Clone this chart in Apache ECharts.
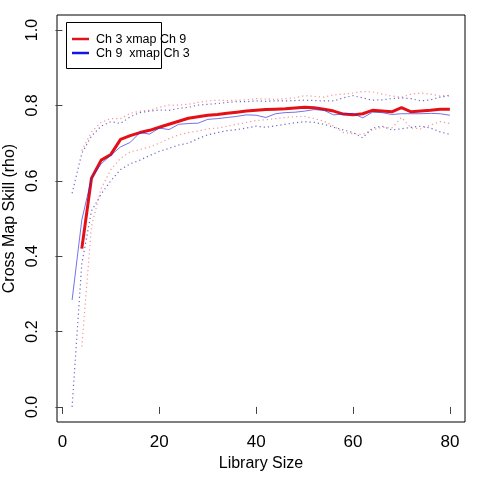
<!DOCTYPE html>
<html>
<head>
<meta charset="utf-8">
<script src="https://cdn.jsdelivr.net/npm/echarts@6/dist/echarts.min.js"></script>
<style>html,body{margin:0;padding:0;background:#fff}#c{width:480px;height:480px}</style>
</head>
<body>
<div id="c"></div>
<script>
var libSizes = [2,4,6,8,10,12,14,16,18,20,22,24,26,28,30,32,34,36,38,40,42,44,46,48,50,52,54,56,58,60,62,64,66,68,70,72,74,76,78,80];
var redMean = [null,0.42,0.607,0.655,0.670,0.710,0.720,0.728,0.734,0.742,0.750,0.758,0.766,0.770,0.774,0.776,0.779,0.782,0.785,0.787,0.789,0.790,0.791,0.793,0.795,0.794,0.790,0.785,0.777,0.775,0.778,0.787,0.785,0.783,0.794,0.783,0.785,0.787,0.790,0.790];
var blueMean = [0.284,0.496,0.607,0.645,0.668,0.690,0.702,0.728,0.724,0.740,0.736,0.750,0.752,0.753,0.763,0.765,0.768,0.771,0.775,0.774,0.768,0.778,0.781,0.782,0.785,0.789,0.787,0.775,0.777,0.779,0.767,0.782,0.781,0.776,0.778,0.778,0.778,0.779,0.778,0.774];
var redUpper = [null,0.68,0.73,0.755,0.765,0.765,0.779,0.785,0.787,0.795,0.801,0.801,0.803,0.808,0.812,0.814,0.813,0.814,0.815,0.818,0.817,0.816,0.818,0.820,0.826,0.824,0.822,0.828,0.830,0.833,0.837,0.836,0.830,0.825,0.822,0.830,0.833,0.830,0.825,0.827];
var redLower = [null,0.16,0.48,0.58,0.63,0.660,0.677,0.683,0.690,0.700,0.712,0.722,0.728,0.732,0.738,0.740,0.745,0.750,0.755,0.760,0.762,0.765,0.768,0.770,0.771,0.765,0.758,0.745,0.728,0.725,0.723,0.735,0.742,0.740,0.768,0.740,0.738,0.748,0.757,0.752];
var blueUpper = [0.567,0.673,0.719,0.745,0.757,0.752,0.770,0.781,0.785,0.788,0.787,0.792,0.795,0.801,0.803,0.805,0.808,0.810,0.810,0.812,0.811,0.812,0.812,0.813,0.814,0.813,0.812,0.812,0.820,0.826,0.820,0.814,0.815,0.818,0.820,0.818,0.812,0.815,0.822,0.826];
var blueLower = [0.0,0.38,0.52,0.565,0.600,0.630,0.645,0.655,0.667,0.678,0.686,0.695,0.700,0.712,0.722,0.728,0.733,0.736,0.740,0.745,0.742,0.746,0.750,0.754,0.757,0.755,0.750,0.742,0.735,0.728,0.714,0.740,0.745,0.735,0.738,0.742,0.745,0.740,0.730,0.723];
var xTicks = [0,20,40,60,80];
var yTicks = [0,0.2,0.4,0.6,0.8,1.0];
var legendLabels = ['Ch 3 xmap Ch 9', 'Ch 9  xmap Ch 3'];

function pairs(vals){
  var out = [];
  for (var i = 0; i < libSizes.length; i++) {
    if (vals[i] !== null) out.push([libSizes[i], vals[i]]);
  }
  return out;
}
var FONT = '"Liberation Sans", Arial, Helvetica, sans-serif';
function lineSeries(name, vals, color, width, type, z){
  return {name: name, type: 'line', data: pairs(vals), symbol: 'none', z: z,
    lineStyle: {color: color, width: width, type: type}, silent: true};
}
var chart = echarts.init(document.getElementById('c'), null, {renderer: 'canvas'});
chart.setOption({
  animation: false,
  backgroundColor: '#fff',
  grid: {left: 57, right: 15, top: 15, bottom: 58, containLabel: false, outerBoundsMode: 'none',
    show: true, borderColor: '#000', borderWidth: 1, backgroundColor: 'transparent'},
  xAxis: {
    type: 'value', min: -1.12, max: 83.12,
    name: 'Library Size', nameLocation: 'middle', nameGap: 34,
    nameTextStyle: {fontFamily: FONT, fontSize: 16, color: '#000'},
    axisLine: {show: false},
    axisTick: {show: true, length: 7, customValues: xTicks, lineStyle: {color: '#444'}},
    axisLabel: {customValues: xTicks, margin: 12, fontFamily: FONT, fontSize: 17, color: '#000'},
    splitLine: {show: false}
  },
  yAxis: {
    type: 'value', min: -0.04, max: 1.04,
    name: 'Cross Map Skill (rho)', nameLocation: 'middle', nameGap: 34,
    nameTextStyle: {fontFamily: FONT, fontSize: 16, color: '#000'},
    axisLine: {show: false},
    axisTick: {show: true, length: 7, customValues: yTicks, lineStyle: {color: '#444'}},
    axisLabel: {customValues: yTicks, rotate: 90, margin: 16, fontFamily: FONT, fontSize: 16, color: '#000',
      formatter: function(v){ return v.toFixed(1); }},
    splitLine: {show: false}
  },
  series: [
    lineSeries('redUpper', redUpper, 'rgba(235,80,80,0.6)', 1.2, [1.2, 3], 2),
    lineSeries('redLower', redLower, 'rgba(235,80,80,0.6)', 1.2, [1.2, 3], 2),
    lineSeries(legendLabels[0], redMean, 'rgb(228,16,22)', 3, 'solid', 3),
    lineSeries('blueUpper', blueUpper, 'rgba(50,40,170,0.7)', 1.2, [1.2, 3], 4),
    lineSeries('blueLower', blueLower, 'rgba(50,40,170,0.7)', 1.2, [1.2, 3], 4),
    lineSeries(legendLabels[1], blueMean, 'rgba(40,40,220,0.65)', 1, 'solid', 5)
  ],
  graphic: [
    {type: 'rect', left: 66, top: 22, shape: {width: 95, height: 46}, style: {fill: '#fff', stroke: '#000', lineWidth: 1}, z: 100},
    {type: 'line', shape: {x1: 72, y1: 39, x2: 89, y2: 39}, style: {stroke: 'rgb(220,20,30)', lineWidth: 2.5}, z: 101},
    {type: 'line', shape: {x1: 72, y1: 53, x2: 89, y2: 53}, style: {stroke: 'rgb(20,20,230)', lineWidth: 2.5}, z: 101},
    {type: 'text', left: 96, top: 33, style: {text: legendLabels[0], fontFamily: FONT, fontSize: 12.5, fill: '#000'}, z: 101},
    {type: 'text', left: 96, top: 47, style: {text: legendLabels[1], fontFamily: FONT, fontSize: 12.5, fill: '#000'}, z: 101}
  ]
});
</script>
</body>
</html>
